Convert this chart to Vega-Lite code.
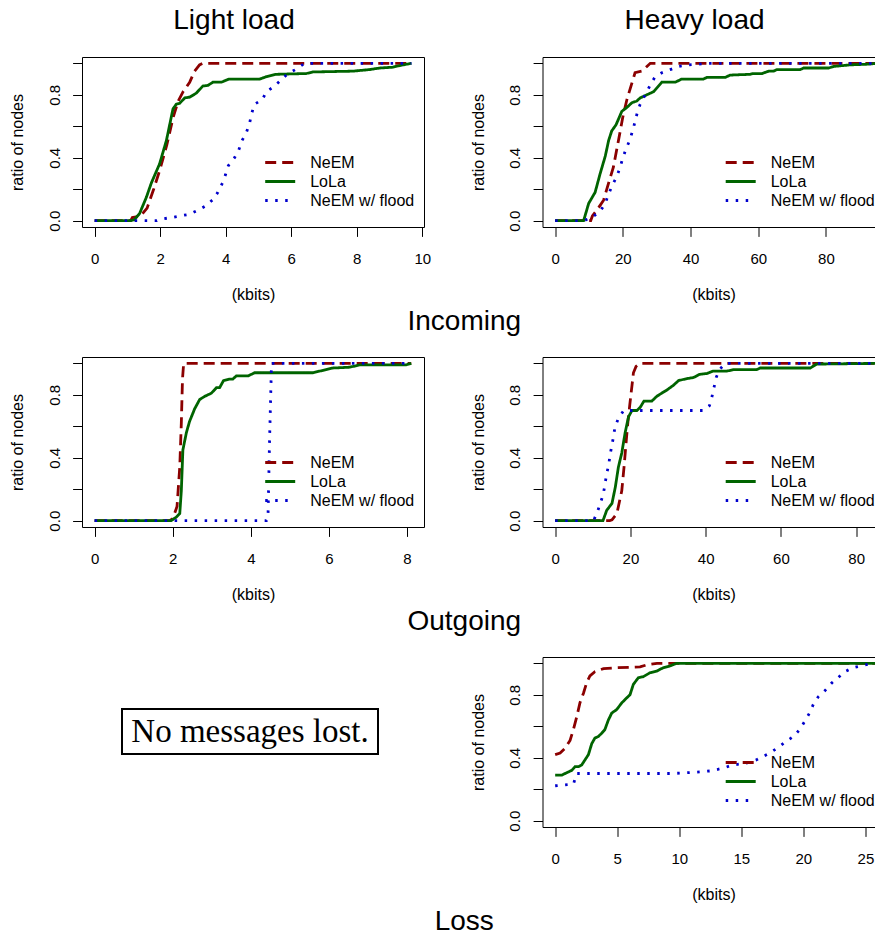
{
  "$schema": "https://vega.github.io/schema/vega-lite/v6.json",
  "autosize": {"type": "none"},
  "padding": {"left": 82, "top": 57, "right": 793, "bottom": 880},
  "bounds": "flush",
  "spacing": 300,
  "config": {
    "font": "Liberation Sans",
    "view": {"stroke": "black", "strokeWidth": 1},
    "axis": {"domain": false, "grid": false, "tickColor": "black", "tickSize": 9.4, "tickWidth": 1, "labelColor": "black", "labelFont": "Liberation Sans", "labelFontSize": 15, "titleColor": "black", "titleFont": "Liberation Sans", "titleFontSize": 16, "titleFontWeight": "normal", "labelFlush": false, "labelOverlap": false},
    "axisX": {"labelBaseline": "alphabetic", "labelPadding": 27.3, "titleBaseline": "alphabetic", "titleY": 72.7},
    "axisY": {"labelAngle": 270, "labelAlign": "center", "labelBaseline": "alphabetic", "labelPadding": 13.4, "titleAngle": 270, "titleAlign": "center", "titleBaseline": "alphabetic", "titleX": -59.3, "titleY": 85},
    "legend": {"orient": "none", "legendX": 181.7, "legendY": 96, "symbolType": "stroke", "symbolSize": 900, "symbolStrokeWidth": 3, "clipHeight": 19, "rowPadding": 0, "labelFont": "Liberation Sans", "labelFontSize": 16, "labelColor": "black", "labelOffset": 13.5, "padding": 0, "titlePadding": 0},
    "title": {"font": "Liberation Sans", "fontSize": 28, "fontWeight": "normal", "color": "black", "frame": "group", "anchor": "middle"},
    "line": {"strokeWidth": 2.8}
  },
  "resolve": {"scale": {"x": "independent", "y": "independent", "color": "independent", "strokeDash": "independent"}, "legend": {"color": "independent", "strokeDash": "independent"}},
  "datasets": {
    "inLight": [
      {"s":"NeEM","x":0,"y":0},{"s":"NeEM","x":1.1,"y":0},{"s":"NeEM","x":1.15,"y":0.02},{"s":"NeEM","x":1.4,"y":0.03},{"s":"NeEM","x":1.6,"y":0.08},{"s":"NeEM","x":1.8,"y":0.2},{"s":"NeEM","x":2.0,"y":0.33},{"s":"NeEM","x":2.2,"y":0.48},{"s":"NeEM","x":2.4,"y":0.66},{"s":"NeEM","x":2.55,"y":0.76},{"s":"NeEM","x":2.7,"y":0.82},{"s":"NeEM","x":2.9,"y":0.88},{"s":"NeEM","x":3.05,"y":0.95},{"s":"NeEM","x":3.2,"y":0.99},{"s":"NeEM","x":3.3,"y":1.0},{"s":"NeEM","x":9.67,"y":1.0},
      {"s":"LoLa","x":0,"y":0},{"s":"LoLa","x":1.1,"y":0},{"s":"LoLa","x":1.2,"y":0.005},{"s":"LoLa","x":1.37,"y":0.045},{"s":"LoLa","x":1.58,"y":0.15},{"s":"LoLa","x":1.73,"y":0.24},{"s":"LoLa","x":1.98,"y":0.36},{"s":"LoLa","x":2.19,"y":0.51},{"s":"LoLa","x":2.39,"y":0.71},{"s":"LoLa","x":2.49,"y":0.74},{"s":"LoLa","x":2.59,"y":0.745},{"s":"LoLa","x":2.75,"y":0.78},{"s":"LoLa","x":2.9,"y":0.785},{"s":"LoLa","x":3.1,"y":0.81},{"s":"LoLa","x":3.3,"y":0.855},{"s":"LoLa","x":3.46,"y":0.86},{"s":"LoLa","x":3.61,"y":0.88},{"s":"LoLa","x":3.87,"y":0.88},{"s":"LoLa","x":4.1,"y":0.9},{"s":"LoLa","x":5.04,"y":0.9},{"s":"LoLa","x":5.24,"y":0.915},{"s":"LoLa","x":5.54,"y":0.93},{"s":"LoLa","x":6.46,"y":0.935},{"s":"LoLa","x":6.66,"y":0.945},{"s":"LoLa","x":7.88,"y":0.95},{"s":"LoLa","x":8.39,"y":0.96},{"s":"LoLa","x":8.7,"y":0.97},{"s":"LoLa","x":9.1,"y":0.975},{"s":"LoLa","x":9.3,"y":0.985},{"s":"LoLa","x":9.67,"y":1.0},
      {"s":"NeEM w/ flood","x":0,"y":0},{"s":"NeEM w/ flood","x":1.9,"y":0},{"s":"NeEM w/ flood","x":2.03,"y":0.01},{"s":"NeEM w/ flood","x":2.34,"y":0.02},{"s":"NeEM w/ flood","x":2.59,"y":0.03},{"s":"NeEM w/ flood","x":2.88,"y":0.04},{"s":"NeEM w/ flood","x":3.15,"y":0.066},{"s":"NeEM w/ flood","x":3.39,"y":0.094},{"s":"NeEM w/ flood","x":3.61,"y":0.134},{"s":"NeEM w/ flood","x":3.76,"y":0.18},{"s":"NeEM w/ flood","x":3.9,"y":0.24},{"s":"NeEM w/ flood","x":3.99,"y":0.29},{"s":"NeEM w/ flood","x":4.08,"y":0.35},{"s":"NeEM w/ flood","x":4.27,"y":0.4},{"s":"NeEM w/ flood","x":4.4,"y":0.45},{"s":"NeEM w/ flood","x":4.5,"y":0.51},{"s":"NeEM w/ flood","x":4.63,"y":0.56},{"s":"NeEM w/ flood","x":4.73,"y":0.62},{"s":"NeEM w/ flood","x":4.79,"y":0.68},{"s":"NeEM w/ flood","x":4.88,"y":0.74},{"s":"NeEM w/ flood","x":5.12,"y":0.77},{"s":"NeEM w/ flood","x":5.24,"y":0.82},{"s":"NeEM w/ flood","x":5.46,"y":0.85},{"s":"NeEM w/ flood","x":5.67,"y":0.89},{"s":"NeEM w/ flood","x":5.87,"y":0.93},{"s":"NeEM w/ flood","x":6.13,"y":0.96},{"s":"NeEM w/ flood","x":6.34,"y":0.99},{"s":"NeEM w/ flood","x":6.46,"y":1.0},{"s":"NeEM w/ flood","x":9.67,"y":1.0}
    ],
    "inHeavy": [
      {"s":"NeEM","x":0,"y":0},{"s":"NeEM","x":10.5,"y":0},{"s":"NeEM","x":11,"y":0.03},{"s":"NeEM","x":12.3,"y":0.066},{"s":"NeEM","x":14.3,"y":0.13},{"s":"NeEM","x":15.8,"y":0.24},{"s":"NeEM","x":17.2,"y":0.34},{"s":"NeEM","x":18.7,"y":0.51},{"s":"NeEM","x":20,"y":0.66},{"s":"NeEM","x":21.2,"y":0.77},{"s":"NeEM","x":22.4,"y":0.855},{"s":"NeEM","x":23.6,"y":0.94},{"s":"NeEM","x":25.6,"y":0.95},{"s":"NeEM","x":27.1,"y":0.98},{"s":"NeEM","x":28.1,"y":1.0},{"s":"NeEM","x":97.3,"y":1.0},
      {"s":"LoLa","x":0,"y":0},{"s":"LoLa","x":8.4,"y":0},{"s":"LoLa","x":9.9,"y":0.11},{"s":"LoLa","x":11.8,"y":0.18},{"s":"LoLa","x":13.3,"y":0.3},{"s":"LoLa","x":14.8,"y":0.41},{"s":"LoLa","x":15.8,"y":0.51},{"s":"LoLa","x":16.7,"y":0.57},{"s":"LoLa","x":18.0,"y":0.61},{"s":"LoLa","x":19.7,"y":0.695},{"s":"LoLa","x":21.2,"y":0.72},{"s":"LoLa","x":22.7,"y":0.75},{"s":"LoLa","x":24.1,"y":0.76},{"s":"LoLa","x":25.1,"y":0.78},{"s":"LoLa","x":27.1,"y":0.8},{"s":"LoLa","x":29.1,"y":0.82},{"s":"LoLa","x":31.5,"y":0.88},{"s":"LoLa","x":35.5,"y":0.88},{"s":"LoLa","x":37.4,"y":0.9},{"s":"LoLa","x":43.8,"y":0.9},{"s":"LoLa","x":44.8,"y":0.91},{"s":"LoLa","x":50.2,"y":0.91},{"s":"LoLa","x":51.7,"y":0.925},{"s":"LoLa","x":57.6,"y":0.93},{"s":"LoLa","x":58.6,"y":0.935},{"s":"LoLa","x":61.1,"y":0.935},{"s":"LoLa","x":63.1,"y":0.95},{"s":"LoLa","x":64.5,"y":0.95},{"s":"LoLa","x":65.5,"y":0.96},{"s":"LoLa","x":72.4,"y":0.96},{"s":"LoLa","x":73.4,"y":0.97},{"s":"LoLa","x":80.8,"y":0.97},{"s":"LoLa","x":82.3,"y":0.98},{"s":"LoLa","x":87.2,"y":0.99},{"s":"LoLa","x":93.1,"y":0.995},{"s":"LoLa","x":95,"y":1.0},{"s":"LoLa","x":97.3,"y":1.0},
      {"s":"NeEM w/ flood","x":0,"y":0},{"s":"NeEM w/ flood","x":8.4,"y":0},{"s":"NeEM w/ flood","x":10.8,"y":0.02},{"s":"NeEM w/ flood","x":13.3,"y":0.06},{"s":"NeEM w/ flood","x":14.8,"y":0.11},{"s":"NeEM w/ flood","x":15.8,"y":0.17},{"s":"NeEM w/ flood","x":17,"y":0.23},{"s":"NeEM w/ flood","x":18.2,"y":0.28},{"s":"NeEM w/ flood","x":19.2,"y":0.34},{"s":"NeEM w/ flood","x":20,"y":0.4},{"s":"NeEM w/ flood","x":21,"y":0.46},{"s":"NeEM w/ flood","x":22,"y":0.51},{"s":"NeEM w/ flood","x":23,"y":0.58},{"s":"NeEM w/ flood","x":23.6,"y":0.63},{"s":"NeEM w/ flood","x":24.3,"y":0.69},{"s":"NeEM w/ flood","x":25.1,"y":0.74},{"s":"NeEM w/ flood","x":26.1,"y":0.78},{"s":"NeEM w/ flood","x":27.1,"y":0.82},{"s":"NeEM w/ flood","x":28.3,"y":0.87},{"s":"NeEM w/ flood","x":29.4,"y":0.91},{"s":"NeEM w/ flood","x":31.5,"y":0.94},{"s":"NeEM w/ flood","x":34,"y":0.96},{"s":"NeEM w/ flood","x":36.5,"y":0.98},{"s":"NeEM w/ flood","x":39.4,"y":0.99},{"s":"NeEM w/ flood","x":42.4,"y":0.995},{"s":"NeEM w/ flood","x":44.8,"y":1.0},{"s":"NeEM w/ flood","x":97.3,"y":1.0}
    ],
    "outLight": [
      {"s":"NeEM","x":0,"y":0},{"s":"NeEM","x":1.92,"y":0},{"s":"NeEM","x":2.0,"y":0.013},{"s":"NeEM","x":2.11,"y":0.09},{"s":"NeEM","x":2.18,"y":0.34},{"s":"NeEM","x":2.22,"y":0.62},{"s":"NeEM","x":2.25,"y":0.9},{"s":"NeEM","x":2.28,"y":1.0},{"s":"NeEM","x":8.11,"y":1.0},
      {"s":"LoLa","x":0,"y":0},{"s":"LoLa","x":1.96,"y":0},{"s":"LoLa","x":2.09,"y":0.023},{"s":"LoLa","x":2.18,"y":0.045},{"s":"LoLa","x":2.22,"y":0.19},{"s":"LoLa","x":2.26,"y":0.45},{"s":"LoLa","x":2.35,"y":0.56},{"s":"LoLa","x":2.43,"y":0.63},{"s":"LoLa","x":2.56,"y":0.71},{"s":"LoLa","x":2.69,"y":0.77},{"s":"LoLa","x":2.82,"y":0.79},{"s":"LoLa","x":2.99,"y":0.81},{"s":"LoLa","x":3.12,"y":0.845},{"s":"LoLa","x":3.2,"y":0.845},{"s":"LoLa","x":3.3,"y":0.89},{"s":"LoLa","x":3.46,"y":0.9},{"s":"LoLa","x":3.54,"y":0.9},{"s":"LoLa","x":3.63,"y":0.92},{"s":"LoLa","x":3.93,"y":0.92},{"s":"LoLa","x":4.1,"y":0.94},{"s":"LoLa","x":5.59,"y":0.94},{"s":"LoLa","x":5.76,"y":0.95},{"s":"LoLa","x":5.93,"y":0.96},{"s":"LoLa","x":6.1,"y":0.97},{"s":"LoLa","x":6.53,"y":0.975},{"s":"LoLa","x":6.79,"y":0.99},{"s":"LoLa","x":7.98,"y":0.99},{"s":"LoLa","x":8.11,"y":1.0},
      {"s":"NeEM w/ flood","x":0,"y":0},{"s":"NeEM w/ flood","x":4.4,"y":0},{"s":"NeEM w/ flood","x":4.44,"y":0.02},{"s":"NeEM w/ flood","x":4.48,"y":0.51},{"s":"NeEM w/ flood","x":4.53,"y":1.0},{"s":"NeEM w/ flood","x":8.11,"y":1.0}
    ],
    "outHeavy": [
      {"s":"NeEM","x":0,"y":0},{"s":"NeEM","x":14.5,"y":0},{"s":"NeEM","x":15.1,"y":0.006},{"s":"NeEM","x":16.4,"y":0.045},{"s":"NeEM","x":17.7,"y":0.19},{"s":"NeEM","x":18.3,"y":0.34},{"s":"NeEM","x":18.9,"y":0.51},{"s":"NeEM","x":19.3,"y":0.62},{"s":"NeEM","x":19.8,"y":0.73},{"s":"NeEM","x":20.4,"y":0.855},{"s":"NeEM","x":20.8,"y":0.94},{"s":"NeEM","x":21.5,"y":0.98},{"s":"NeEM","x":22.6,"y":1.0},{"s":"NeEM","x":87.5,"y":1.0},
      {"s":"LoLa","x":0,"y":0},{"s":"LoLa","x":12.7,"y":0},{"s":"LoLa","x":13.7,"y":0.066},{"s":"LoLa","x":15.1,"y":0.11},{"s":"LoLa","x":16,"y":0.215},{"s":"LoLa","x":16.8,"y":0.34},{"s":"LoLa","x":17.7,"y":0.43},{"s":"LoLa","x":18.6,"y":0.56},{"s":"LoLa","x":19.5,"y":0.66},{"s":"LoLa","x":20.4,"y":0.7},{"s":"LoLa","x":21.7,"y":0.7},{"s":"LoLa","x":22.6,"y":0.72},{"s":"LoLa","x":23.6,"y":0.76},{"s":"LoLa","x":25.7,"y":0.76},{"s":"LoLa","x":27,"y":0.79},{"s":"LoLa","x":28.3,"y":0.81},{"s":"LoLa","x":29.7,"y":0.83},{"s":"LoLa","x":31.4,"y":0.86},{"s":"LoLa","x":32.8,"y":0.89},{"s":"LoLa","x":34.5,"y":0.9},{"s":"LoLa","x":36.8,"y":0.91},{"s":"LoLa","x":38.4,"y":0.93},{"s":"LoLa","x":40.3,"y":0.935},{"s":"LoLa","x":41.9,"y":0.95},{"s":"LoLa","x":45.6,"y":0.95},{"s":"LoLa","x":47.4,"y":0.96},{"s":"LoLa","x":53.6,"y":0.96},{"s":"LoLa","x":54.5,"y":0.97},{"s":"LoLa","x":67.8,"y":0.97},{"s":"LoLa","x":69.5,"y":0.995},{"s":"LoLa","x":87.5,"y":1.0},
      {"s":"NeEM w/ flood","x":0,"y":0},{"s":"NeEM w/ flood","x":10.2,"y":0},{"s":"NeEM w/ flood","x":11.2,"y":0.055},{"s":"NeEM w/ flood","x":12,"y":0.11},{"s":"NeEM w/ flood","x":12.8,"y":0.17},{"s":"NeEM w/ flood","x":13.3,"y":0.24},{"s":"NeEM w/ flood","x":13.7,"y":0.3},{"s":"NeEM w/ flood","x":14.2,"y":0.35},{"s":"NeEM w/ flood","x":14.6,"y":0.42},{"s":"NeEM w/ flood","x":15.1,"y":0.48},{"s":"NeEM w/ flood","x":15.5,"y":0.535},{"s":"NeEM w/ flood","x":15.9,"y":0.595},{"s":"NeEM w/ flood","x":16.8,"y":0.65},{"s":"NeEM w/ flood","x":18.2,"y":0.7},{"s":"NeEM w/ flood","x":39.4,"y":0.7},{"s":"NeEM w/ flood","x":41,"y":0.73},{"s":"NeEM w/ flood","x":41.6,"y":0.78},{"s":"NeEM w/ flood","x":42.2,"y":0.845},{"s":"NeEM w/ flood","x":42.8,"y":0.91},{"s":"NeEM w/ flood","x":43.7,"y":0.96},{"s":"NeEM w/ flood","x":45.2,"y":1.0},{"s":"NeEM w/ flood","x":87.5,"y":1.0}
    ],
    "lossHeavy": [
      {"s":"NeEM","x":0,"y":0.42},{"s":"NeEM","x":0.4,"y":0.43},{"s":"NeEM","x":0.8,"y":0.46},{"s":"NeEM","x":1.2,"y":0.51},{"s":"NeEM","x":1.47,"y":0.58},{"s":"NeEM","x":1.74,"y":0.66},{"s":"NeEM","x":2.0,"y":0.75},{"s":"NeEM","x":2.28,"y":0.81},{"s":"NeEM","x":2.55,"y":0.88},{"s":"NeEM","x":2.8,"y":0.92},{"s":"NeEM","x":3.2,"y":0.947},{"s":"NeEM","x":3.9,"y":0.966},{"s":"NeEM","x":4.96,"y":0.972},{"s":"NeEM","x":6.84,"y":0.977},{"s":"NeEM","x":7.37,"y":0.99},{"s":"NeEM","x":8.2,"y":1.0},{"s":"NeEM","x":26.5,"y":1.0},
      {"s":"LoLa","x":0,"y":0.29},{"s":"LoLa","x":0.54,"y":0.29},{"s":"LoLa","x":0.94,"y":0.305},{"s":"LoLa","x":1.34,"y":0.32},{"s":"LoLa","x":1.6,"y":0.343},{"s":"LoLa","x":1.88,"y":0.343},{"s":"LoLa","x":2.14,"y":0.354},{"s":"LoLa","x":2.4,"y":0.386},{"s":"LoLa","x":2.68,"y":0.42},{"s":"LoLa","x":2.95,"y":0.49},{"s":"LoLa","x":3.2,"y":0.525},{"s":"LoLa","x":3.48,"y":0.535},{"s":"LoLa","x":3.75,"y":0.556},{"s":"LoLa","x":4.0,"y":0.578},{"s":"LoLa","x":4.29,"y":0.64},{"s":"LoLa","x":4.56,"y":0.684},{"s":"LoLa","x":4.96,"y":0.706},{"s":"LoLa","x":5.36,"y":0.748},{"s":"LoLa","x":5.76,"y":0.78},{"s":"LoLa","x":6.03,"y":0.8},{"s":"LoLa","x":6.3,"y":0.866},{"s":"LoLa","x":6.7,"y":0.908},{"s":"LoLa","x":7.1,"y":0.915},{"s":"LoLa","x":7.64,"y":0.94},{"s":"LoLa","x":8.18,"y":0.95},{"s":"LoLa","x":8.71,"y":0.972},{"s":"LoLa","x":9.25,"y":0.983},{"s":"LoLa","x":9.79,"y":1.0},{"s":"LoLa","x":26.5,"y":1.0},
      {"s":"NeEM w/ flood","x":0,"y":0.222},{"s":"NeEM w/ flood","x":1.47,"y":0.232},{"s":"NeEM w/ flood","x":1.74,"y":0.3},{"s":"NeEM w/ flood","x":9.52,"y":0.3},{"s":"NeEM w/ flood","x":11.1,"y":0.307},{"s":"NeEM w/ flood","x":12.5,"y":0.316},{"s":"NeEM w/ flood","x":13.5,"y":0.333},{"s":"NeEM w/ flood","x":14.3,"y":0.354},{"s":"NeEM w/ flood","x":15.4,"y":0.365},{"s":"NeEM w/ flood","x":16.2,"y":0.386},{"s":"NeEM w/ flood","x":17.3,"y":0.43},{"s":"NeEM w/ flood","x":18,"y":0.467},{"s":"NeEM w/ flood","x":18.6,"y":0.503},{"s":"NeEM w/ flood","x":19.2,"y":0.535},{"s":"NeEM w/ flood","x":19.7,"y":0.578},{"s":"NeEM w/ flood","x":20.1,"y":0.63},{"s":"NeEM w/ flood","x":20.5,"y":0.684},{"s":"NeEM w/ flood","x":20.8,"y":0.738},{"s":"NeEM w/ flood","x":21.2,"y":0.787},{"s":"NeEM w/ flood","x":21.7,"y":0.823},{"s":"NeEM w/ flood","x":22.3,"y":0.876},{"s":"NeEM w/ flood","x":22.8,"y":0.908},{"s":"NeEM w/ flood","x":23.3,"y":0.945},{"s":"NeEM w/ flood","x":24,"y":0.972},{"s":"NeEM w/ flood","x":24.8,"y":0.987},{"s":"NeEM w/ flood","x":25.6,"y":1.0},{"s":"NeEM w/ flood","x":26.5,"y":1.0}
    ]
  },
  "vconcat": [
    {
      "bounds": "flush",
      "spacing": 118.5,
      "title": {"text": "Incoming", "orient": "bottom", "anchor": "middle", "frame": "group", "dx": 382.3, "offset": 5},
      "resolve": {"scale": {"x": "independent", "y": "independent", "color": "independent", "strokeDash": "independent"}, "legend": {"color": "independent", "strokeDash": "independent"}},
      "hconcat": [
        {
          "width": 342, "height": 170,
          "title": {"text": "Light load", "dx": -19, "offset": 22},
          "data": {"name": "inLight"},
          "mark": {"type": "line", "clip": true},
          "encoding": {
            "x": {"field": "x", "type": "quantitative", "scale": {"domain": [-0.387, 10.053], "nice": false, "zero": false}, "axis": {"values": [0, 2, 4, 6, 8, 10], "title": "(kbits)"}},
            "y": {"field": "y", "type": "quantitative", "scale": {"domain": [-0.04, 1.04], "nice": false, "zero": false}, "axis": {"values": [0, 0.2, 0.4, 0.6, 0.8, 1], "title": "ratio of nodes", "labelExpr": "datum.value === 0 || datum.value === 0.4 || datum.value === 0.8 ? format(datum.value, '.1f') : ''"}},
            "color": {"field": "s", "type": "nominal", "scale": {"domain": ["NeEM", "LoLa", "NeEM w/ flood"], "range": ["#8B0000", "#006400", "#0000CD"]}, "legend": {"title": null}},
            "strokeDash": {"field": "s", "type": "nominal", "scale": {"domain": ["NeEM", "LoLa", "NeEM w/ flood"], "range": [[11, 6], [1, 0], [2.5, 7.5]]}, "legend": {"title": null}}
          }
        },
        {
          "width": 342, "height": 170,
          "title": {"text": "Heavy load", "dx": -19, "offset": 22},
          "data": {"name": "inHeavy"},
          "mark": {"type": "line", "clip": true},
          "encoding": {
            "x": {"field": "x", "type": "quantitative", "scale": {"domain": [-3.744, 97.3], "nice": false, "zero": false}, "axis": {"values": [0, 20, 40, 60, 80], "title": "(kbits)"}},
            "y": {"field": "y", "type": "quantitative", "scale": {"domain": [-0.04, 1.04], "nice": false, "zero": false}, "axis": {"values": [0, 0.2, 0.4, 0.6, 0.8, 1], "title": "ratio of nodes", "labelExpr": "datum.value === 0 || datum.value === 0.4 || datum.value === 0.8 ? format(datum.value, '.1f') : ''"}},
            "color": {"field": "s", "type": "nominal", "scale": {"domain": ["NeEM", "LoLa", "NeEM w/ flood"], "range": ["#8B0000", "#006400", "#0000CD"]}, "legend": {"title": null}},
            "strokeDash": {"field": "s", "type": "nominal", "scale": {"domain": ["NeEM", "LoLa", "NeEM w/ flood"], "range": [[11, 6], [1, 0], [2.5, 7.5]]}, "legend": {"title": null}}
          }
        }
      ]
    },
    {
      "bounds": "flush",
      "spacing": 118.5,
      "title": {"text": "Outgoing", "orient": "bottom", "anchor": "middle", "frame": "group", "dx": 382.3, "offset": 5},
      "resolve": {"scale": {"x": "independent", "y": "independent", "color": "independent", "strokeDash": "independent"}, "legend": {"color": "independent", "strokeDash": "independent"}},
      "hconcat": [
        {
          "width": 342, "height": 170,
          "data": {"name": "outLight"},
          "mark": {"type": "line", "clip": true},
          "encoding": {
            "x": {"field": "x", "type": "quantitative", "scale": {"domain": [-0.324, 8.436], "nice": false, "zero": false}, "axis": {"values": [0, 2, 4, 6, 8], "title": "(kbits)"}},
            "y": {"field": "y", "type": "quantitative", "scale": {"domain": [-0.04, 1.04], "nice": false, "zero": false}, "axis": {"values": [0, 0.2, 0.4, 0.6, 0.8, 1], "title": "ratio of nodes", "labelExpr": "datum.value === 0 || datum.value === 0.4 || datum.value === 0.8 ? format(datum.value, '.1f') : ''"}},
            "color": {"field": "s", "type": "nominal", "scale": {"domain": ["NeEM", "LoLa", "NeEM w/ flood"], "range": ["#8B0000", "#006400", "#0000CD"]}, "legend": {"title": null}},
            "strokeDash": {"field": "s", "type": "nominal", "scale": {"domain": ["NeEM", "LoLa", "NeEM w/ flood"], "range": [[11, 6], [1, 0], [2.5, 7.5]]}, "legend": {"title": null}}
          }
        },
        {
          "width": 342, "height": 170,
          "data": {"name": "outHeavy"},
          "mark": {"type": "line", "clip": true},
          "encoding": {
            "x": {"field": "x", "type": "quantitative", "scale": {"domain": [-3.367, 87.53], "nice": false, "zero": false}, "axis": {"values": [0, 20, 40, 60, 80], "title": "(kbits)"}},
            "y": {"field": "y", "type": "quantitative", "scale": {"domain": [-0.04, 1.04], "nice": false, "zero": false}, "axis": {"values": [0, 0.2, 0.4, 0.6, 0.8, 1], "title": "ratio of nodes", "labelExpr": "datum.value === 0 || datum.value === 0.4 || datum.value === 0.8 ? format(datum.value, '.1f') : ''"}},
            "color": {"field": "s", "type": "nominal", "scale": {"domain": ["NeEM", "LoLa", "NeEM w/ flood"], "range": ["#8B0000", "#006400", "#0000CD"]}, "legend": {"title": null}},
            "strokeDash": {"field": "s", "type": "nominal", "scale": {"domain": ["NeEM", "LoLa", "NeEM w/ flood"], "range": [[11, 6], [1, 0], [2.5, 7.5]]}, "legend": {"title": null}}
          }
        }
      ]
    },
    {
      "bounds": "flush",
      "spacing": 460.5,
      "title": {"text": "Loss", "orient": "bottom", "anchor": "middle", "frame": "group", "dx": 382.3, "offset": 5},
      "resolve": {"scale": {"x": "independent", "y": "independent", "color": "independent", "strokeDash": "independent"}, "legend": {"color": "independent", "strokeDash": "independent"}},
      "hconcat": [
        {
          "bounds": "flush",
          "spacing": 0,
          "vconcat": [
            {
              "width": 1, "height": 52,
              "view": {"stroke": null},
              "data": {"values": [{}]},
              "mark": {"type": "text"}
            },
            {
              "bounds": "flush",
              "spacing": 0,
              "hconcat": [
                {
                  "width": 40, "height": 1,
                  "view": {"stroke": null},
                  "data": {"values": [{}]},
                  "mark": {"type": "text"}
                },
                {
                  "width": 256, "height": 45,
                  "view": {"stroke": "black", "strokeWidth": 2},
                  "data": {"values": [{"note": "No messages lost."}]},
                  "mark": {"type": "text", "font": "Liberation Serif", "fontSize": 33, "color": "black"},
                  "encoding": {"text": {"field": "note", "type": "nominal"}}
                }
              ]
            }
          ]
        },
        {
          "width": 342, "height": 170,
          "data": {"name": "lossHeavy"},
          "mark": {"type": "line", "clip": true},
          "encoding": {
            "x": {"field": "x", "type": "quantitative", "scale": {"domain": [-1.021, 26.54], "nice": false, "zero": false}, "axis": {"values": [0, 5, 10, 15, 20, 25], "title": "(kbits)"}},
            "y": {"field": "y", "type": "quantitative", "scale": {"domain": [-0.04, 1.04], "nice": false, "zero": false}, "axis": {"values": [0, 0.2, 0.4, 0.6, 0.8, 1], "title": "ratio of nodes", "labelExpr": "datum.value === 0 || datum.value === 0.4 || datum.value === 0.8 ? format(datum.value, '.1f') : ''"}},
            "color": {"field": "s", "type": "nominal", "scale": {"domain": ["NeEM", "LoLa", "NeEM w/ flood"], "range": ["#8B0000", "#006400", "#0000CD"]}, "legend": {"title": null}},
            "strokeDash": {"field": "s", "type": "nominal", "scale": {"domain": ["NeEM", "LoLa", "NeEM w/ flood"], "range": [[11, 6], [1, 0], [2.5, 7.5]]}, "legend": {"title": null}}
          }
        }
      ]
    }
  ]
}
